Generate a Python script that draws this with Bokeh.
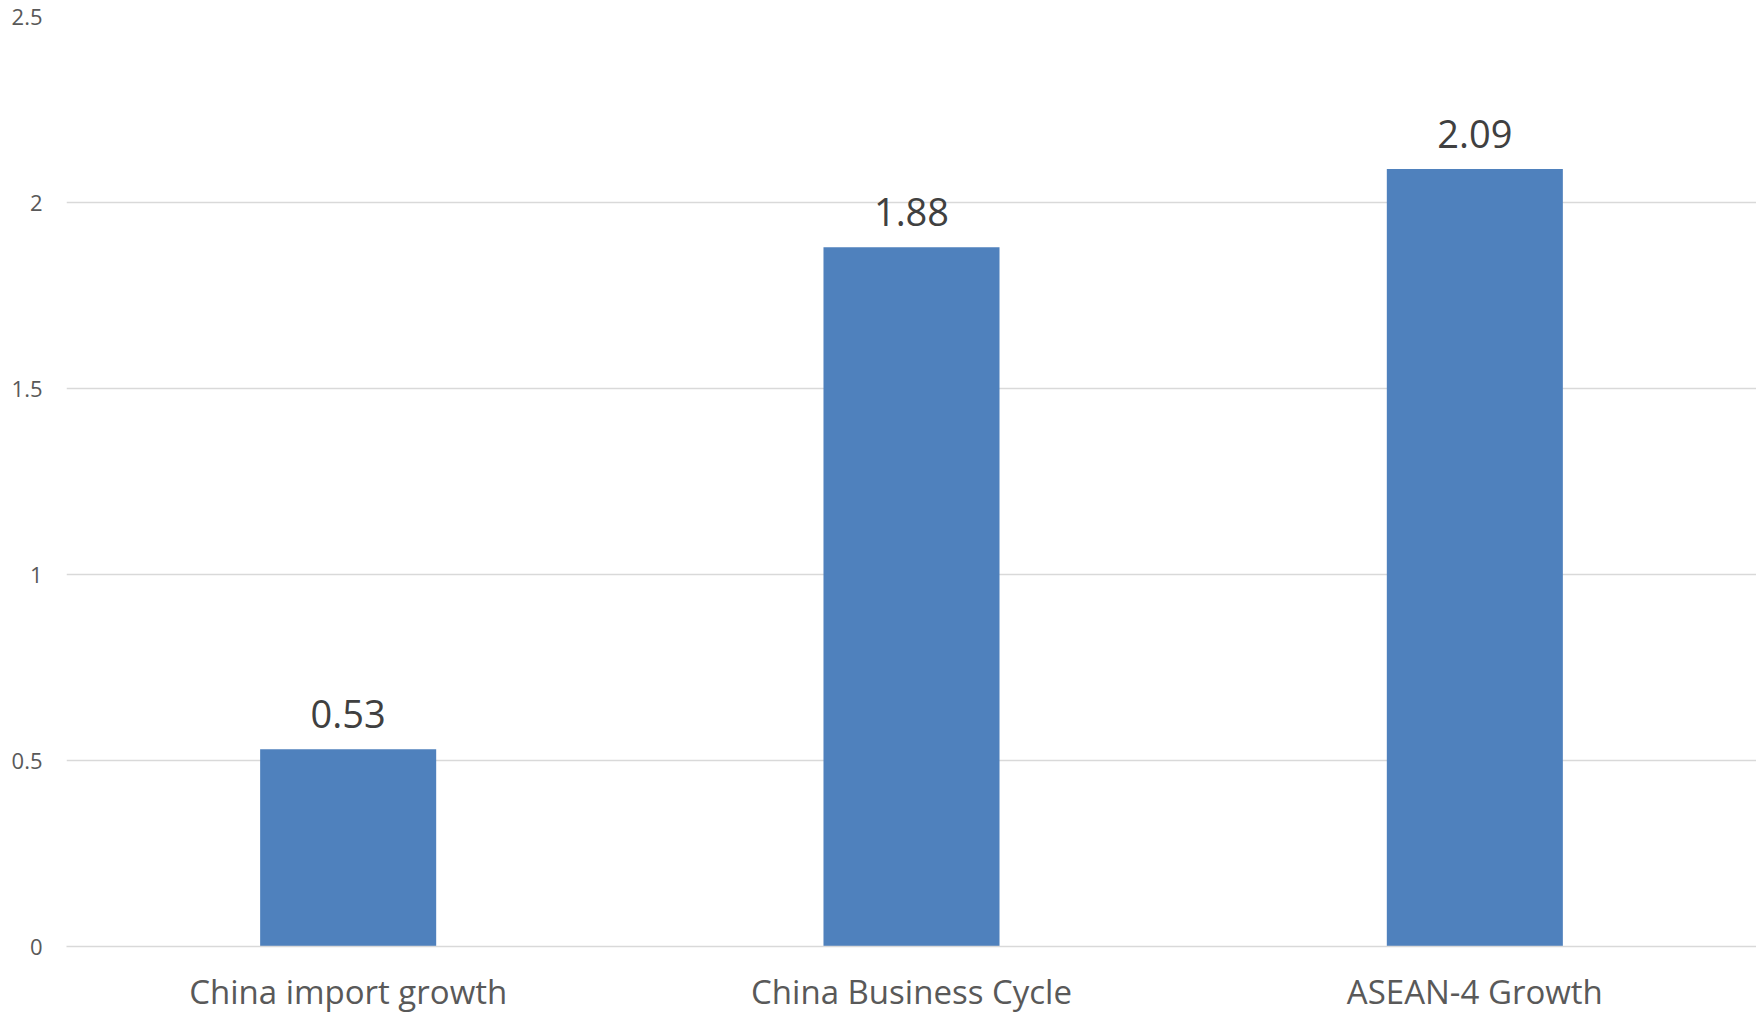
from bokeh.plotting import figure
from bokeh.models import ColumnDataSource, FactorRange, Range1d, FixedTicker, CustomJSTickFormatter, LabelSet
from bokeh.core.properties import value
from bokeh.embed import file_html
from bokeh.resources import INLINE

categories = ["China import growth", "China Business Cycle", "ASEAN-4 Growth"]
values = [0.53, 1.88, 2.09]
value_labels = ["0.53", "1.88", "2.09"]
y_ticks = [0, 0.5, 1, 1.5, 2, 2.5]

source = ColumnDataSource(data=dict(cat=categories, val=values, lab=value_labels))

p = figure(
    x_range=FactorRange(factors=categories, range_padding=0),
    y_range=Range1d(0, 2.5),
    width=1756, height=1016,
    output_backend="svg", toolbar_location=None,
    min_border_left=66, min_border_right=0, min_border_top=16, min_border_bottom=68,
)
p.outline_line_color = None
p.background_fill_color = "white"
p.border_fill_color = "white"

p.vbar(x="cat", top="val", width=0.3125, source=source,
       fill_color="#4F81BD", line_color="#4F81BD", line_width=0)

labels = LabelSet(x="cat", y="val", text="lab", source=source,
                  text_align="center", text_baseline="alphabetic", y_offset=21,
                  text_font=value("Open Sans"), text_font_size=value("38px"),
                  text_color="#404040")
p.add_layout(labels)

p.xgrid.grid_line_color = None
p.ygrid.grid_line_color = "#D9D9D9"
p.ygrid.grid_line_width = 1.5

p.yaxis.ticker = FixedTicker(ticks=y_ticks)
p.yaxis.formatter = CustomJSTickFormatter(code="return tick.toString();")
p.yaxis.axis_line_color = None
p.yaxis.major_tick_line_color = None
p.yaxis.minor_tick_line_color = None
p.yaxis.major_tick_out = 0
p.yaxis.major_tick_in = 0
p.yaxis.major_label_standoff = 24
p.yaxis.major_label_text_font = "Open Sans"
p.yaxis.major_label_text_font_size = "22px"
p.yaxis.major_label_text_color = "#595959"

p.xaxis.axis_line_color = "#D9D9D9"
p.xaxis.axis_line_width = 1.5
p.xaxis.major_tick_line_color = None
p.xaxis.minor_tick_line_color = None
p.xaxis.major_tick_out = 0
p.xaxis.major_tick_in = 0
p.xaxis.major_label_standoff = 22
p.xaxis.major_label_text_font = "Open Sans"
p.xaxis.major_label_text_font_size = "33px"
p.xaxis.major_label_text_color = "#595959"

open("out.html", "w").write(file_html(p, INLINE))
